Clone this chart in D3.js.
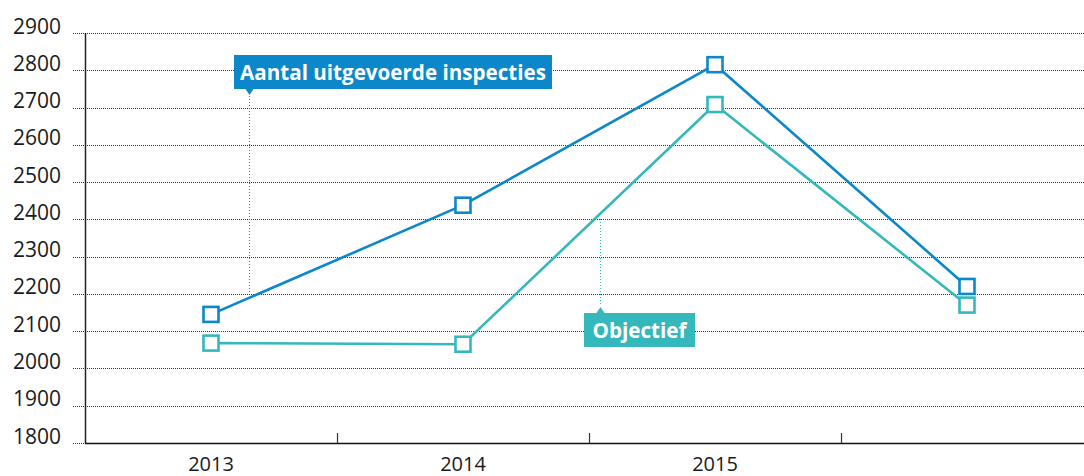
<!DOCTYPE html>
<html><head><meta charset="utf-8">
<script src="https://cdn.jsdelivr.net/npm/d3@7"></script>
<style>
html,body{margin:0;padding:0;background:#fff;}
svg{display:block;font-family:"Open Sans",sans-serif;}
</style></head>
<body><svg id="c" width="1084" height="476"></svg>
<script>
const categories = ["2013","2014","2015",""];
const aantal = [2145, 2438, 2815, 2220];
const objectief = [2068, 2065, 2708, 2170];
const yTicks = [1800,1900,2000,2100,2200,2300,2400,2500,2600,2700,2800,2900];

const BLUE = "#0b87ca", TEAL = "#34b8bc";
const svg = d3.select("#c");
const x = d3.scaleBand().domain(categories).range([85, 1093]).padding(0);
const y = d3.scaleLinear().domain([1800, 2900]).range([443, 33]);
const cx = d => x(d) + x.bandwidth()/2;

// gridlines
svg.append("g").selectAll("line").data(yTicks).join("line")
  .attr("x1", 73).attr("x2", 1084)
  .attr("y1", d => Math.round(y(d)) + 0.5).attr("y2", d => Math.round(y(d)) + 0.5)
  .attr("stroke", "#333").attr("stroke-width", 1).attr("stroke-dasharray", "1,1");

// y labels
svg.append("g").selectAll("text").data(yTicks).join("text")
  .attr("x", 61).attr("y", d => y(d) + 0.5)
  .attr("text-anchor", "end").attr("font-size", 21).attr("fill", "#1a1a1a")
  .text(d => d);

// axes
svg.append("line").attr("x1", 85.5).attr("x2", 85.5).attr("y1", 33).attr("y2", 443.5)
  .attr("stroke", "#222").attr("stroke-width", 1.5);
svg.append("line").attr("x1", 85).attr("x2", 1084).attr("y1", 443.5).attr("y2", 443.5)
  .attr("stroke", "#111").attr("stroke-width", 1.5);
svg.append("g").selectAll("line").data(categories.slice(0, 3)).join("line")
  .attr("x1", d => Math.round(x(d) + x.bandwidth()) + 0.5)
  .attr("x2", d => Math.round(x(d) + x.bandwidth()) + 0.5)
  .attr("y1", 433).attr("y2", 443)
  .attr("stroke", "#333").attr("stroke-width", 1.2);
svg.append("g").selectAll("text").data(categories).join("text")
  .attr("x", d => cx(d)).attr("y", 471)
  .attr("text-anchor", "middle").attr("font-size", 20).attr("fill", "#1a1a1a")
  .text(d => d);

// annotation leader lines
svg.append("line").attr("x1", 249.5).attr("x2", 249.5).attr("y1", 96).attr("y2", 294)
  .attr("stroke", BLUE).attr("stroke-width", 1).attr("stroke-dasharray", "1,2");
svg.append("line").attr("x1", 600.5).attr("x2", 600.5).attr("y1", 219).attr("y2", 306)
  .attr("stroke", TEAL).attr("stroke-width", 1).attr("stroke-dasharray", "1,2");

// series
const line = d3.line().x((d, i) => cx(categories[i])).y(d => y(d));
function series(vals, color) {
  svg.append("path").datum(vals).attr("d", line)
    .attr("fill", "none").attr("stroke", color).attr("stroke-width", 2.6);
  svg.append("g").selectAll("rect").data(vals).join("rect")
    .attr("x", (d, i) => cx(categories[i]) - 7.5).attr("y", d => y(d) - 7.5)
    .attr("width", 15).attr("height", 15)
    .attr("fill", "#fff").attr("stroke", color).attr("stroke-width", 2.6);
}
series(objectief, TEAL);
series(aantal, BLUE);

// label boxes
function label(txt, color, bx, by, bw, bh, tipX, tipUp) {
  const g = svg.append("g");
  g.append("rect").attr("x", bx).attr("y", by).attr("width", bw).attr("height", bh).attr("fill", color);
  if (tipUp) {
    g.append("path").attr("d", `M${tipX-4},${by} L${tipX},${by-6} L${tipX+4},${by} Z`).attr("fill", color);
  } else {
    g.append("path").attr("d", `M${tipX-4},${by+bh} L${tipX},${by+bh+6} L${tipX+4},${by+bh} Z`).attr("fill", color);
  }
  g.append("text").attr("x", bx + bw/2).attr("y", by + bh/2 + 7.5)
    .attr("text-anchor", "middle").attr("font-size", 20.6).attr("font-weight", "bold")
    .attr("fill", "#fff").text(txt);
}
label("Aantal uitgevoerde inspecties", BLUE, 234, 55, 318, 34, 249.5, false);
label("Objectief", TEAL, 584, 313, 111, 34, 600.5, true);
</script></body></html>
